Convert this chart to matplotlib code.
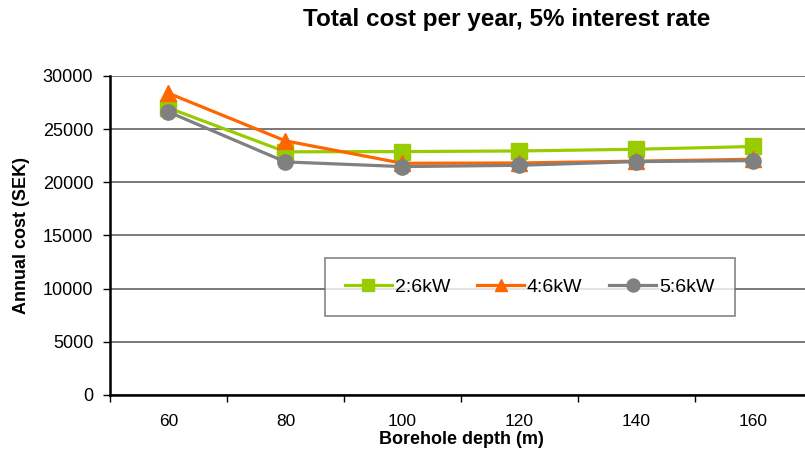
import numpy as np
import matplotlib.pyplot as plt

# Borehole depth categories and annual cost per configuration (SEK)
depths = ['60', '80', '100', '120', '140', '160']
cost_2_6kw = [27000, 22870, 22890, 22950, 23110, 23370]
cost_4_6kw = [28380, 23900, 21790, 21820, 21990, 22170]
cost_5_6kw = [26620, 21920, 21480, 21600, 21950, 22040]

series = [
    ('2:6kW', cost_2_6kw, '#99CC00', 's'),
    ('4:6kW', cost_4_6kw, '#FF6600', '^'),
    ('5:6kW', cost_5_6kw, '#808080', 'o'),
]

plt.rcParams['font.family'] = ['Liberation Sans', 'DejaVu Sans']

fig = plt.figure(figsize=(8.05, 4.57), dpi=100)
ax = fig.add_axes([0.1366, 0.1357, 0.872, 0.698])

x = np.arange(len(depths))
for name, vals, col, mk in series:
    ax.plot(x, vals, color=col, lw=2.3, marker=mk, ms=11,
            markeredgecolor=col, label=name, clip_on=False)

ax.set_xlim(-0.5, len(depths) - 0.5)
ax.set_ylim(0, 30000)
ax.set_yticks(np.arange(0, 30001, 5000))
ax.yaxis.grid(True, color='#555555', lw=1.1)
ax.set_axisbelow(True)

# categories sit between tick marks, like a spreadsheet chart
ax.set_xticks(np.arange(-0.5, len(depths), 1.0))
ax.set_xticklabels([])
ax.set_xticks(x, minor=True)
ax.set_xticklabels(depths, minor=True, fontsize=12.5)
ax.tick_params(axis='x', which='minor', length=0, pad=14)
ax.tick_params(axis='x', which='major', length=5, width=1, color='black')
ax.tick_params(axis='y', length=5, width=1, labelsize=13, pad=7)

for s in ['top', 'right']:
    ax.spines[s].set_visible(False)
for s in ['left', 'bottom']:
    ax.spines[s].set_linewidth(1.8)

ax.set_xlabel('Borehole depth (m)', fontsize=13, fontweight='bold',
              labelpad=1)
ax.set_ylabel('Annual cost (SEK)', fontsize=13, fontweight='bold', labelpad=9)

fig.text(0.63, 0.957, 'Total cost per year, 5% interest rate', ha='center',
         va='center', fontsize=17.5, fontweight='bold')

leg = ax.legend(loc='center', bbox_to_anchor=(0.598, 0.339), ncol=3,
                fontsize=14, frameon=True, fancybox=False, edgecolor='#666666',
                markerscale=0.85, handlelength=2.4, columnspacing=1.4,
                borderpad=1.05, handletextpad=0.15, borderaxespad=0)
leg.get_frame().set_linewidth(1.2)

fig.savefig('out.png', dpi=100)
